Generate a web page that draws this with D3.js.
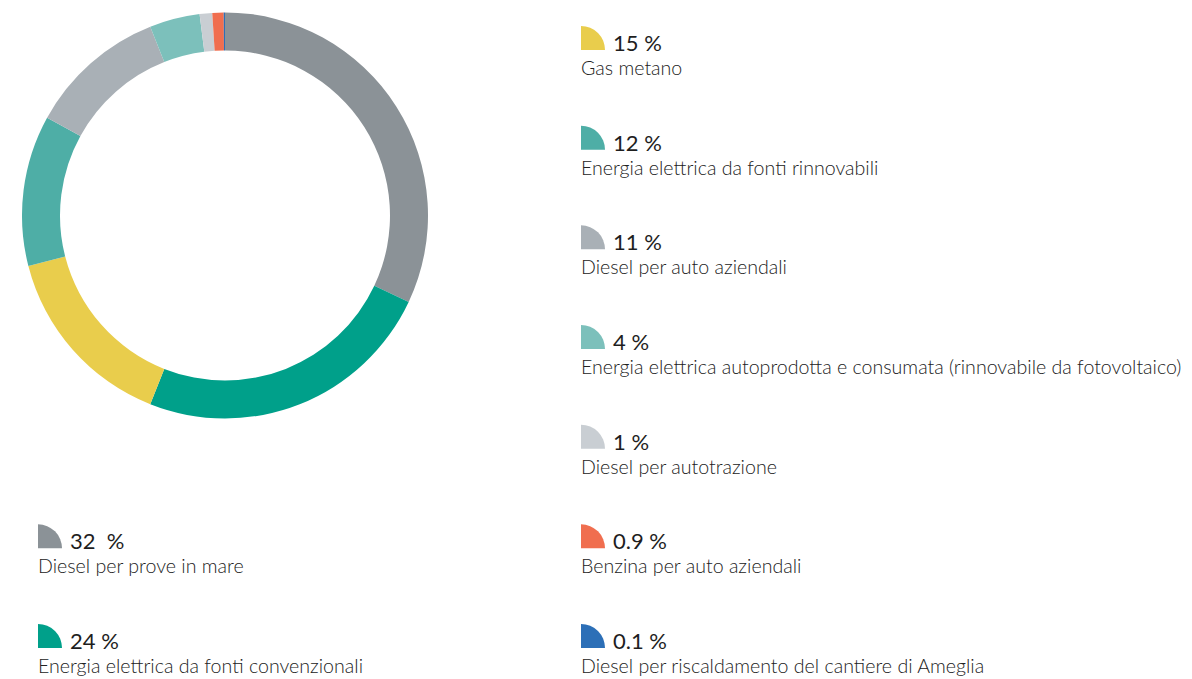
<!DOCTYPE html>
<html>
<head>
<meta charset="utf-8">
<script src="https://cdn.jsdelivr.net/npm/d3@7"></script>
<style>
  body { margin: 0; background: #fff; }
  svg { display: block; }
</style>
</head>
<body>
<div class="chart"></div>
<script>
// data, in order round the ring from 12 o'clock clockwise
var labels = [
    "Diesel per prove in mare",
    "Energia elettrica da fonti convenzionali",
    "Gas metano",
    "Energia elettrica da fonti rinnovabili",
    "Diesel per auto aziendali",
    "Energia elettrica autoprodotta e consumata (rinnovabile da fotovoltaico)",
    "Diesel per autotrazione",
    "Benzina per auto aziendali",
    "Diesel per riscaldamento del cantiere di Ameglia"
];
var values = [32, 24, 15, 12, 11, 4, 1, 0.9, 0.1];
var valueTexts = ["32  %", "24 %", "15 %", "12 %", "11 %", "4 %", "1 %", "0.9 %", "0.1 %"];
var colors = ["#8b9297", "#00a08a", "#e9cd4c", "#4eaea6", "#a9b0b6", "#7cc0bb", "#c9ced3", "#f06e4f", "#2c6fb7"];
// legend placement: column (0 left, 1 right) and row
var legendCol = [0, 0, 1, 1, 1, 1, 1, 1, 1];
var legendRow = [5, 6, 0, 1, 2, 3, 4, 5, 6];

var w = 1192;
var h = 679;

var svg = d3.select('.chart')
            .append('svg')
            .attr('width', w)
            .attr('height', h);

var dataset = values.map(function(v, i) {
    return { value: v, label: labels[i], text: valueTexts[i], color: colors[i],
             col: legendCol[i], row: legendRow[i] };
});

// donut
var pie = d3.pie()
            .sort(null)
            .value(function(d) { return d.value; });

var arc = d3.arc()
            .innerRadius(165)
            .outerRadius(203);

var ring = svg.append('g')
              .attr('transform', 'translate(225,215.5)');

ring.selectAll('path')
    .data(pie(dataset))
    .enter()
    .append('path')
    .attr('d', arc)
    .attr('fill', function(d) { return d.data.color; });

// legend
var colX = d3.scaleOrdinal()
             .domain([0, 1])
             .range([38, 581]);

var rowY = d3.scaleLinear()
             .domain([0, 6])
             .range([42, 640]);

var icon = d3.arc()
             .innerRadius(0)
             .outerRadius(24)
             .startAngle(0)
             .endAngle(Math.PI / 2);

var items = svg.selectAll('g.item')
               .data(dataset)
               .enter()
               .append('g')
               .attr('class', 'item')
               .attr('transform', function(d) {
                   return 'translate(' + colX(d.col) + ',' + rowY(d.row) + ')';
               });

items.append('path')
     .attr('d', icon)
     .attr('transform', 'translate(0,8)')
     .attr('fill', function(d) { return d.color; });

items.append('text')
     .text(function(d) { return d.text; })
     .attr('x', 32)
     .attr('y', 9)
     .attr('xml:space', 'preserve')
     .attr('font-family', 'Lato, sans-serif')
     .attr('font-size', '22px')
     .attr('fill', '#1e1e1e');

items.append('text')
     .text(function(d) { return d.label; })
     .attr('x', 0)
     .attr('y', 33)
     .attr('font-family', 'Lato, sans-serif')
     .attr('font-size', '19.6px')
     .attr('font-weight', 300)
     .attr('fill', '#222');
</script>
</body>
</html>
